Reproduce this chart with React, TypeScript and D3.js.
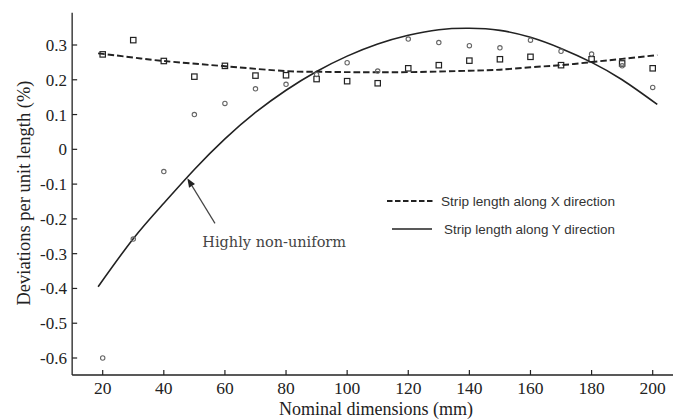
import React from "react";
import * as d3 from "d3";

// ---- data ----
const sizes = [20, 30, 40, 50, 60, 70, 80, 90, 100, 110, 120, 130, 140, 150, 160, 170, 180, 190, 200];
const xDirPoints = [0.273, 0.314, 0.254, 0.209, 0.24, 0.212, 0.213, 0.202, 0.196, 0.19, 0.233, 0.242, 0.255, 0.259, 0.266, 0.242, 0.259, 0.247, 0.233];
const yDirPoints = [-0.6, -0.258, -0.064, 0.1, 0.132, 0.174, 0.187, 0.215, 0.249, 0.225, 0.317, 0.307, 0.298, 0.292, 0.314, 0.282, 0.274, 0.24, 0.178];

const xFitX = [18.5, 30, 40, 60, 80, 90, 100, 120, 140, 150, 160, 170, 180, 190, 201.5];
const xFitV = [0.276, 0.264, 0.254, 0.239, 0.225, 0.223, 0.222, 0.222, 0.226, 0.229, 0.236, 0.242, 0.251, 0.26, 0.271];

const yFitX = [18.5, 30, 40, 50, 60, 70, 80, 90, 100, 110, 120, 130, 140, 150, 160, 170, 180, 190, 201.5];
const yFitV = [-0.395, -0.257, -0.155, -0.058, 0.03, 0.106, 0.17, 0.224, 0.268, 0.303, 0.328, 0.344, 0.348, 0.342, 0.322, 0.29, 0.25, 0.2, 0.129];

const xTicks = [20, 40, 60, 80, 100, 120, 140, 160, 180, 200];
const yTicks = [0.3, 0.2, 0.1, 0, -0.1, -0.2, -0.3, -0.4, -0.5, -0.6];
const yTickLabels = ["0.3", "0.2", "0.1", "0", "-0.1", "-0.2", "-0.3", "-0.4", "-0.5", "-0.6"];

const legendLabels = ["Strip length along X direction", "Strip length along Y direction"];
const annotationText = "Highly non-uniform";
const arrowTail = [56.75, -0.213];
const arrowTip = [47.7, -0.083];
const annotationAt = [52.6, -0.28];

const W = 673;
const H = 419;

export default function App() {
  const x = d3.scaleLinear().domain([20, 200]).range([102.7, 652.7]);
  const y = d3.scaleLinear().domain([0.3, -0.6]).range([45, 358]);
  const x0 = x(10);
  const yBottom = 375;
  const yTop = 12.7;

  const line = d3
    .line<[number, number]>()
    .x((d) => x(d[0]))
    .y((d) => y(d[1]))
    .curve(d3.curveNatural);

  const dashedPath = line(xFitX.map((v, i) => [v, xFitV[i]] as [number, number])) || "";
  const solidPath = line(yFitX.map((v, i) => [v, yFitV[i]] as [number, number])) || "";

  const serif = "'Liberation Serif', 'Times New Roman', serif";
  const sans = "'Liberation Sans', Arial, sans-serif";
  const axisColor = "#222";

  // arrow geometry
  const tx = x(arrowTail[0]);
  const ty = y(arrowTail[1]);
  const hx = x(arrowTip[0]);
  const hy = y(arrowTip[1]);
  const ang = Math.atan2(hy - ty, hx - tx);
  const headLen = 9;
  const headW = 3.5;
  const bx = hx - headLen * Math.cos(ang);
  const by = hy - headLen * Math.sin(ang);
  const p1 = [bx + headW * Math.sin(ang), by - headW * Math.cos(ang)];
  const p2 = [bx - headW * Math.sin(ang), by + headW * Math.cos(ang)];

  return (
    <svg
      width={W}
      height={H}
      style={{ position: "absolute", left: 0, top: 0, background: "#fff" }}
    >
      <rect x={0} y={0} width={W} height={H} fill="#fff" />
      {/* axes */}
      <line x1={x0} x2={x0} y1={yTop} y2={yBottom} stroke={axisColor} strokeWidth={1.3} />
      <line x1={x0} x2={W} y1={yBottom} y2={yBottom} stroke={axisColor} strokeWidth={1.3} />
      {yTicks.map((t, i) => (
        <g key={"yt" + i}>
          <line x1={x0} x2={x0 + 5} y1={y(t)} y2={y(t)} stroke={axisColor} strokeWidth={1.2} />
          <text
            x={67}
            y={y(t)}
            dy="0.35em"
            textAnchor="end"
            fontFamily={serif}
            fontSize={17}
            fill="#222"
          >
            {yTickLabels[i]}
          </text>
        </g>
      ))}
      {xTicks.map((t, i) => (
        <g key={"xt" + i}>
          <line x1={x(t)} x2={x(t)} y1={yBottom} y2={yBottom - 5} stroke={axisColor} strokeWidth={1.2} />
          <text x={x(t)} y={394} textAnchor="middle" fontFamily={serif} fontSize={17.5} fill="#222">
            {t}
          </text>
        </g>
      ))}
      <text x={376} y={415} textAnchor="middle" fontFamily={serif} fontSize={18} fill="#222">
        Nominal dimensions (mm)
      </text>
      <text
        transform={`translate(30,193) rotate(-90)`}
        textAnchor="middle"
        fontFamily={serif}
        fontSize={18.5}
        fill="#222"
      >
        Deviations per unit length (%)
      </text>

      {/* fitted curves */}
      <path d={dashedPath} fill="none" stroke="#222" strokeWidth={1.9} strokeDasharray="6.5,3" />
      <path d={solidPath} fill="none" stroke="#222" strokeWidth={1.6} />

      {/* points */}
      {sizes.map((s, i) => (
        <rect
          key={"sq" + i}
          x={x(s) - 2.7}
          y={y(xDirPoints[i]) - 2.7}
          width={5.4}
          height={5.4}
          fill="none"
          stroke="#222"
          strokeWidth={1.2}
        />
      ))}
      {sizes.map((s, i) => (
        <circle
          key={"c" + i}
          cx={x(s)}
          cy={y(yDirPoints[i])}
          r={2.2}
          fill="none"
          stroke="#666"
          strokeWidth={1.1}
        />
      ))}

      {/* annotation */}
      <line x1={tx} y1={ty} x2={bx} y2={by} stroke="#444" strokeWidth={1.2} />
      <polygon points={`${hx},${hy} ${p1[0]},${p1[1]} ${p2[0]},${p2[1]}`} fill="#222" />
      <text
        x={x(annotationAt[0])}
        y={y(annotationAt[1])}
        fontFamily="'DejaVu Serif', serif"
        fontSize={14.5}
        fill="#444"
      >
        {annotationText}
      </text>

      {/* legend */}
      <line x1={387} x2={433} y1={201} y2={201} stroke="#222" strokeWidth={2.2} strokeDasharray="5.5,2.5" />
      <text x={441} y={205.5} fontFamily={sans} fontSize={13.5} fill="#333" textLength={174} lengthAdjust="spacingAndGlyphs">
        {legendLabels[0]}
      </text>
      <line x1={392} x2={432} y1={229} y2={229} stroke="#222" strokeWidth={1.5} />
      <text x={444} y={233.5} fontFamily={sans} fontSize={13.5} fill="#333" textLength={171} lengthAdjust="spacingAndGlyphs">
        {legendLabels[1]}
      </text>
    </svg>
  );
}
